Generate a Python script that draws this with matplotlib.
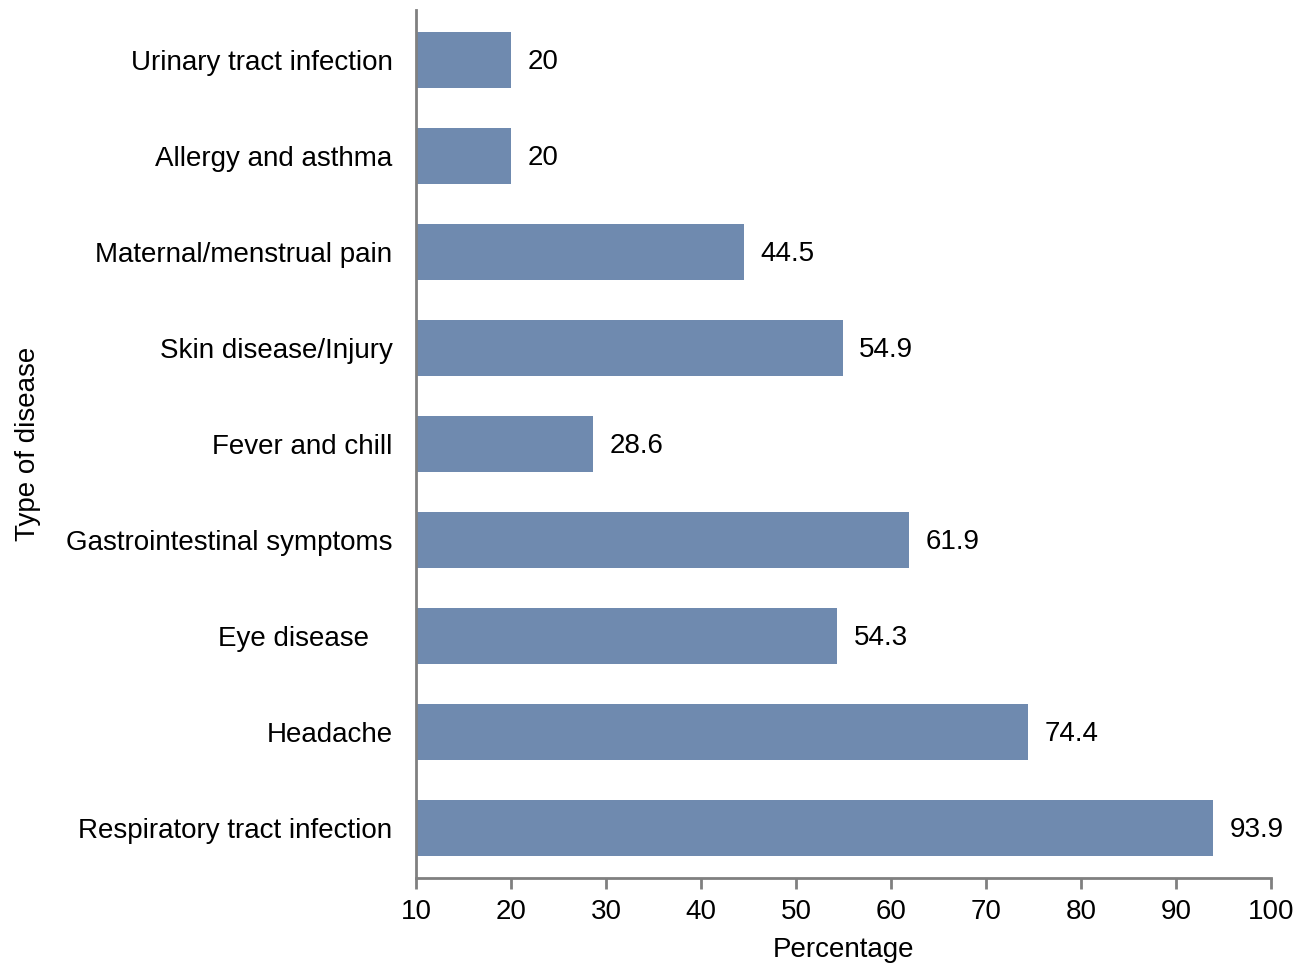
import matplotlib.pyplot as plt

# bottom to top
diseases = ['Respiratory tract infection',
            'Headache',
            'Eye disease   ',
            'Gastrointestinal symptoms',
            'Fever and chill',
            'Skin disease/Injury',
            'Maternal/menstrual pain',
            'Allergy and asthma',
            'Urinary tract infection']
percent = [93.9, 74.4, 54.3, 61.9, 28.6, 54.9, 44.5, 20, 20]
value_labels = ['93.9', '74.4', '54.3', '61.9', '28.6', '54.9', '44.5', '20', '20']
x_ticks = [10, 20, 30, 40, 50, 60, 70, 80, 90, 100]

bar_color = '#6f8aaf'
axis_color = '#808080'
fs = 20

plt.rcParams['font.family'] = ['Liberation Sans', 'DejaVu Sans']

fig = plt.figure(figsize=(13.11, 9.65), dpi=100)
ax = fig.add_axes([416 / 1311, 1 - 878 / 965, (1271 - 416) / 1311, (878 - 10) / 965])

pos = range(len(diseases))
ax.barh(pos, [p - 10 for p in percent], left=10, height=0.58, color=bar_color)

for i, (p, lab) in enumerate(zip(percent, value_labels)):
    ax.annotate(lab, (p, i), xytext=(12, -1.5), textcoords='offset points',
                va='center', ha='left', fontsize=fs)

ax.set_xlim(10, 100)
ax.set_ylim(-0.52, len(diseases) - 0.48)
ax.set_xticks(x_ticks)
ax.set_yticks(list(pos))
ax.set_yticklabels(diseases)
ax.tick_params(axis='y', length=0, pad=17, labelsize=fs)
ax.tick_params(axis='x', length=8, width=2, color=axis_color, pad=7, labelsize=fs)

for side in ['top', 'right']:
    ax.spines[side].set_visible(False)
for side in ['left', 'bottom']:
    ax.spines[side].set_color(axis_color)
    ax.spines[side].set_linewidth(2)

ax.set_xlabel('Percentage', fontsize=fs, labelpad=9)
ax.set_ylabel('Type of disease', fontsize=fs, labelpad=18)

fig.savefig('out.png', dpi=100)
